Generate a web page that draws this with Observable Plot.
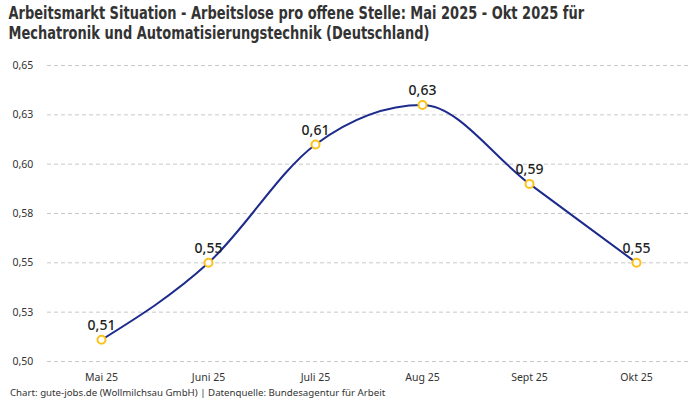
<!DOCTYPE html>
<html><head><meta charset="utf-8">
<script src="https://cdn.jsdelivr.net/npm/d3@7"></script>
<script src="https://cdn.jsdelivr.net/npm/@observablehq/plot@0.6"></script>
<style>
html,body{margin:0;padding:0;background:#fff;width:700px;height:400px;overflow:hidden;position:relative;}
#title{font-family:"DejaVu Sans Condensed",sans-serif;font-weight:bold;font-size:17px;line-height:20px;color:#333;padding:3px 0 0 10px;height:46px;box-sizing:border-box;white-space:nowrap;transform:scaleX(0.85);transform-origin:0 0;}
#chart svg{display:block;}
#caption{position:absolute;left:10px;top:386px;font-family:"Noto Sans",sans-serif;font-size:9.7px;color:#333;line-height:14px;white-space:nowrap;}
</style></head><body>
<div id="title">Arbeitsmarkt Situation - Arbeitslose pro offene Stelle: Mai 2025 - Okt 2025 für<br>Mechatronik und Automatisierungstechnik (Deutschland)</div>
<div id="chart"></div>
<div id="caption">Chart: gute-jobs.de (Wollmilchsau GmbH) | Datenquelle: Bundesagentur für Arbeit</div>
<script>
const months = ["Mai 25","Juni 25","Juli 25","Aug 25","Sept 25","Okt 25"];
const values = [0.511, 0.55, 0.61, 0.63, 0.59, 0.55];
const valueLabels = ["0,51","0,55","0,61","0,63","0,59","0,55"];
const yTicks = [0.5, 0.525, 0.55, 0.575, 0.6, 0.625, 0.65];
const yTickLabels = ["0,50","0,53","0,55","0,58","0,60","0,63","0,65"];

const data = months.map((m,i)=>({month:m, value:values[i], label:valueLabels[i]}));

const chart = Plot.plot({
  width: 700,
  height: 340,
  marginTop: 19,
  marginBottom: 25,
  marginLeft: 47,
  marginRight: 10,
  style: {fontFamily: "Noto Sans, sans-serif", fontSize: "10.5px", color: "#333", background: "#fff", overflow: "visible"},
  x: {type: "point", domain: months, padding: 0.5, label: null},
  y: {domain: [0.5, 0.65], label: null},
  marks: [
    Plot.gridY(yTicks, {stroke: "#c8c8c8", strokeOpacity: 1, strokeDasharray: "4,3"}),
    Plot.axisY({ticks: yTicks, tickFormat: (d) => yTickLabels[yTicks.indexOf(d)], tickSize: 0, tickPadding: 14, textAnchor: "start", dx: -21, fill: "#333"}),
    Plot.axisX({tickSize: 0, tickPadding: 12, fill: "#333"}),
    Plot.line(data, {x: "month", y: "value", curve: "monotone-x", stroke: "#1c2b8c", strokeWidth: 2}),
    Plot.dot(data, {x: "month", y: "value", r: 4, fill: "#fff", stroke: "#fcc21b", strokeWidth: 2}),
    Plot.text(data, {x: "month", y: "value", text: "label", dy: -14, fontSize: 14, fontWeight: 500, fill: "#222"})
  ]
});
document.getElementById("chart").appendChild(chart);
</script>
</body></html>
